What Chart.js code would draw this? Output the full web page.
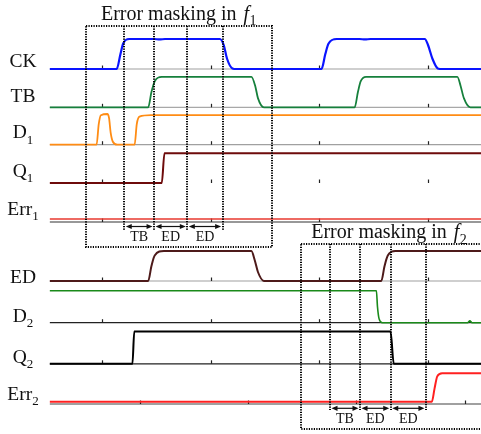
<!DOCTYPE html>
<html>
<head>
<meta charset="utf-8">
<script src="https://cdn.jsdelivr.net/npm/chart.js"></script>
<style>
  html, body { margin: 0; padding: 0; background: #fff; }
  #wrap { width: 481px; height: 434px; position: relative; }
</style>
</head>
<body>
<div id="wrap"><canvas id="timing"></canvas></div>
<script>
// time axis (arbitrary units), small ticks every 10
const timeStart = 5.2;
const timeEnd = 44.9;
const timeTicks = [10, 20, 30, 40];
const err2Ticks = [13.5, 23.45, 33.4, 43.4];

// waveforms as [time, level], level 0 = low, 1 = high
const ck = [[5.2, 0], [11.35, 0], [11.7, 0.5], [11.95, 0.85], [12.5, 1], [14.8, 1], [15.3, 0.985], [15.8, 1],
  [20.85, 1], [21.2, 0.8], [21.5, 0.35], [22.0, 0.02], [22.4, 0], [30.2, 0], [30.55, 0.5], [30.85, 0.85],
  [31.6, 1], [33.7, 1], [34.2, 0.985], [34.7, 1], [39.7, 1], [40.0, 0.8], [40.4, 0.35], [40.9, 0.02], [41.3, 0], [44.9, 0]];
const tb = [[5.2, 0], [14.25, 0], [14.55, 0.5], [14.85, 0.85], [15.5, 1], [23.75, 1], [24.1, 0.7], [24.35, 0.3],
  [24.9, 0], [33.25, 0], [33.55, 0.5], [33.8, 0.85], [34.3, 1], [42.7, 1], [43.0, 0.7], [43.3, 0.3], [43.9, 0], [44.9, 0]];
const d1 = [[5.2, 0], [9.5, 0], [9.7, 0.7], [9.9, 1.0], [10.5, 1.04], [10.65, 0.9], [10.8, 0.4], [11.0, 0.1],
  [11.4, 0], [13.0, 0], [13.2, 0.7], [13.45, 0.95], [14.5, 1], [44.9, 1]];
const q1 = [[5.2, 0], [15.5, 0], [15.75, 1], [44.9, 1]];
const err1 = [[5.2, 0.1], [44.9, 0.1]];
const ed = [[5.2, 0], [14.25, 0], [14.55, 0.5], [14.85, 0.85], [15.7, 1], [23.75, 1], [24.05, 0.7], [24.35, 0.3],
  [24.9, 0], [35.7, 0], [36.0, 0.5], [36.3, 0.85], [37.0, 1], [44.9, 1]];
const d2 = [[5.2, 1], [35.25, 1], [35.35, 0.5], [35.5, 0.12], [35.8, 0], [43.65, 0], [43.85, 0.06], [44.05, 0], [44.9, 0]];
const q2 = [[5.2, 0], [12.8, 0], [12.97, 1], [36.55, 1], [36.85, 0], [44.9, 0]];
const err2 = [[5.2, 0.07], [40.35, 0.07], [40.6, 0.5], [40.85, 0.9], [41.3, 1], [44.9, 1]];

// error masking windows: box span, marker lines, interval names
const f1Window = [8.53, 25.64];
const f1Marks = [12.05, 14.79, 17.85, 21.1];
const f1Spans = ['TB', 'ED', 'ED'];
const f2Window = [28.31, 46];
const f2Marks = [30.98, 33.74, 36.57, 39.81];
const f2Spans = ['TB', 'ED', 'ED'];

// row layout (vertical units are the chart's y scale, 0 at top)
const rows = [
  { main: 'CK',  sub: '',  wave: ck,   color: '#0a14ff', width: 2.2, base: 69,    amp: 30,   axis: '#a0a0a0', ticks: timeTicks, labelY: 66.7 },
  { main: 'TB',  sub: '',  wave: tb,   color: '#16803c', width: 1.8, base: 107.3, amp: 30.5, axis: '#a8a8a8', ticks: timeTicks, labelY: 101.7 },
  { main: 'D',   sub: '1', wave: d1,   color: '#ff8c14', width: 1.8, base: 144.7, amp: 29.5, axis: '#a0a0a0', ticks: timeTicks, labelY: 138.3 },
  { main: 'Q',   sub: '1', wave: q1,   color: '#6e0b0b', width: 2,   base: 183,   amp: 29.7, axis: null,      ticks: timeTicks, labelY: 176.5 },
  { main: 'Err', sub: '1', wave: err1, color: '#e8382f', width: 1.3, base: 222,   amp: 30,   axis: '#333333', ticks: timeTicks, labelY: 215 },
  { main: 'ED',  sub: '',  wave: ed,   color: '#4d1a1a', width: 2,   base: 281,   amp: 30,   axis: '#a0a0a0', ticks: timeTicks, labelY: 283.3 },
  { main: 'D',   sub: '2', wave: d2,   color: '#1a8a1a', width: 1.6, base: 322.7, amp: 32,   axis: '#222222', ticks: timeTicks, labelY: 322 },
  { main: 'Q',   sub: '2', wave: q2,   color: '#000000', width: 2,   base: 363.8, amp: 32.2, axis: '#222222', ticks: timeTicks, labelY: 362.5 },
  { main: 'Err', sub: '2', wave: err2, color: '#ff2020', width: 2,   base: 404,   amp: 30.7, axis: '#a0a0a0', ticks: err2Ticks, labelY: 400 }
];
const boxes = [
  { win: f1Window, marks: f1Marks, spans: f1Spans, top: 25.5, bottom: 247, markEnd: 230, arrowY: 226.5, textY: 240.5,
    titleT: 9.9, titleY: 19.5, titleSub: '1' },
  { win: f2Window, marks: f2Marks, spans: f2Spans, top: 244, bottom: 429, markEnd: 410, arrowY: 408.3, textY: 422.5,
    titleT: 29.25, titleY: 238.3, titleSub: '2' }
];

const serif = "'Liberation Serif', 'Times New Roman', serif";

const datasets = rows.map(r => ({
  label: r.main + r.sub,
  data: r.wave.map(([t, v]) => ({ x: t, y: r.base - v * r.amp })),
  borderColor: r.color,
  borderWidth: r.width,
  pointRadius: 0,
  fill: false,
  cubicInterpolationMode: 'monotone'
}));

function drawSubText(ctx, x, y, main, sub, size, align, italicMain) {
  const mainFont = (italicMain ? 'italic ' : '') + size + 'px ' + serif;
  const subFont = Math.round(size * 0.68) + 'px ' + serif;
  ctx.font = mainFont;
  const mw = ctx.measureText(main).width;
  ctx.font = subFont;
  const sw = sub ? ctx.measureText(sub).width : 0;
  let left = x;
  if (align === 'center') left = x - (mw + sw) / 2;
  ctx.textAlign = 'left';
  ctx.textBaseline = 'alphabetic';
  ctx.font = mainFont;
  ctx.fillText(main, left, y);
  if (sub) {
    ctx.font = subFont;
    ctx.fillText(sub, left + mw + (italicMain ? 0.5 : 0), y + size * 0.28);
  }
}

function arrowHead(ctx, x, y, dir) {
  ctx.beginPath();
  ctx.moveTo(x, y);
  ctx.lineTo(x - dir * 6, y - 2.6);
  ctx.lineTo(x - dir * 6, y + 2.6);
  ctx.closePath();
  ctx.fill();
}

const timingDecor = {
  id: 'timingDecor',
  beforeDatasetsDraw(chart) {
    const ctx = chart.ctx;
    const xs = chart.scales.x, ys = chart.scales.y;
    ctx.save();
    rows.forEach(r => {
      const yb = ys.getPixelForValue(r.base);
      if (r.axis) {
        ctx.strokeStyle = r.axis;
        ctx.lineWidth = r.main === 'Err' && r.sub === '2' ? 2 : 1.2;
        ctx.beginPath();
        ctx.moveTo(xs.getPixelForValue(timeStart), yb);
        ctx.lineTo(xs.getPixelForValue(timeEnd), yb);
        ctx.stroke();
      }
      ctx.strokeStyle = '#222';
      ctx.lineWidth = 1.2;
      r.ticks.forEach(t => {
        const x = Math.round(xs.getPixelForValue(t)) + 0.5;
        ctx.beginPath();
        ctx.moveTo(x, yb);
        ctx.lineTo(x, yb - 3.5);
        ctx.stroke();
      });
    });
    ctx.restore();
  },
  afterDatasetsDraw(chart) {
    const ctx = chart.ctx;
    const xs = chart.scales.x, ys = chart.scales.y;
    ctx.save();
    boxes.forEach(b => {
      const x0 = Math.round(xs.getPixelForValue(b.win[0]));
      const x1 = Math.round(xs.getPixelForValue(b.win[1]));
      const y0 = Math.round(ys.getPixelForValue(b.top));
      const y1 = Math.round(ys.getPixelForValue(b.bottom));
      ctx.strokeStyle = '#000';
      ctx.lineWidth = 2;
      ctx.setLineDash([1.2, 1.3]);
      ctx.strokeRect(x0, y0, x1 - x0, y1 - y0);
      const ym = ys.getPixelForValue(b.markEnd);
      b.marks.forEach(t => {
        const x = Math.round(xs.getPixelForValue(t));
        ctx.beginPath();
        ctx.moveTo(x, y0);
        ctx.lineTo(x, ym);
        ctx.stroke();
      });
      ctx.setLineDash([]);
      // interval arrows with labels
      const ya = ys.getPixelForValue(b.arrowY);
      const yt = ys.getPixelForValue(b.textY);
      ctx.fillStyle = '#111';
      ctx.strokeStyle = '#111';
      ctx.lineWidth = 1.2;
      b.spans.forEach((name, i) => {
        const a = xs.getPixelForValue(b.marks[i]) + 1.5;
        const c = xs.getPixelForValue(b.marks[i + 1]) - 1.5;
        ctx.beginPath();
        ctx.moveTo(a + 3, ya);
        ctx.lineTo(c - 3, ya);
        ctx.stroke();
        arrowHead(ctx, a, ya, -1);
        arrowHead(ctx, c, ya, 1);
        ctx.font = '14px ' + serif;
        ctx.textAlign = 'center';
        ctx.textBaseline = 'alphabetic';
        ctx.fillText(name, (a + c) / 2, yt);
      });
      // window title
      ctx.fillStyle = '#111';
      const tx = xs.getPixelForValue(b.titleT);
      const ty = ys.getPixelForValue(b.titleY);
      ctx.font = '20px ' + serif;
      ctx.textAlign = 'left';
      const lead = 'Error masking in ';
      ctx.fillText(lead, tx, ty);
      const lw = ctx.measureText(lead).width;
      drawSubText(ctx, tx + lw + 2, ty, 'f', b.titleSub, 20, 'left', true);
    });
    // row names
    ctx.fillStyle = '#111';
    rows.forEach(r => {
      drawSubText(ctx, 23, ys.getPixelForValue(r.labelY), r.main, r.sub, 19.5, 'center', false);
    });
    ctx.restore();
  }
};

const ctx = document.getElementById('timing').getContext('2d');
const chart = new Chart(ctx, {
  type: 'line',
  data: { datasets: datasets },
  options: {
    responsive: true,
    maintainAspectRatio: false,
    animation: false,
    layout: { padding: 0 },
    scales: {
      x: { type: 'linear', display: false, min: 0.614, max: 44.876 },
      y: { type: 'linear', display: false, min: 0, max: 434, reverse: true }
    },
    plugins: {
      legend: { display: false },
      tooltip: { enabled: false }
    }
  },
  plugins: [timingDecor]
});
</script>
</body>
</html>
